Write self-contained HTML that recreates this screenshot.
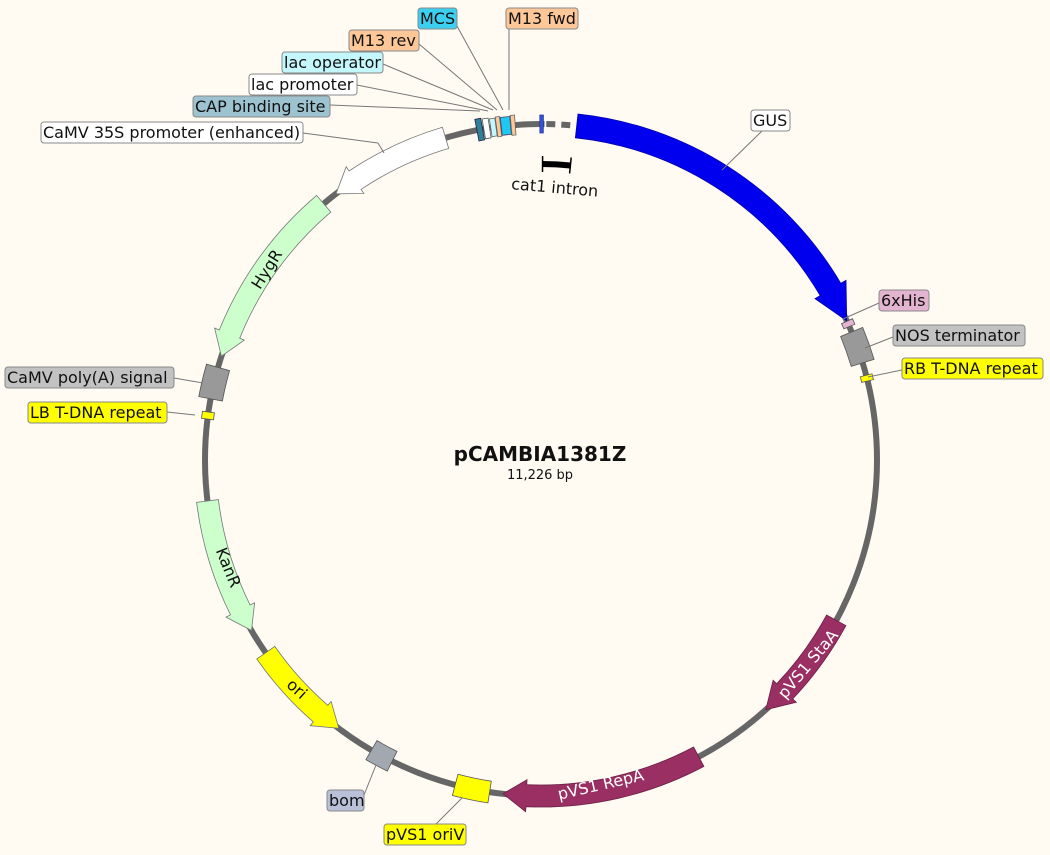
<!DOCTYPE html>
<html><head><meta charset="utf-8">
<style>
html,body{margin:0;padding:0;background:#fffbf3;}
svg{display:block;font-family:"DejaVu Sans","Liberation Sans",sans-serif;}
.lb{font-size:16px;fill:#111;}
</style></head>
<body>
<svg id="s" width="1050" height="855" viewBox="0 0 1050 855" xmlns="http://www.w3.org/2000/svg">
<rect width="1050" height="855" fill="#fffbf3"/>
<circle cx="541" cy="460" r="336" fill="none" stroke="#666" stroke-width="6"/>
<g id="g"></g>
<g stroke="#777" stroke-width="1" fill="none">
<line x1="457" y1="26" x2="503" y2="110"/>
<line x1="509" y1="29" x2="509" y2="110"/>
<line x1="419" y1="44" x2="497" y2="110"/>
<line x1="383" y1="64" x2="493" y2="110"/>
<line x1="357" y1="85" x2="488" y2="111"/>
<line x1="330" y1="105" x2="480" y2="111"/>
<line x1="303" y1="133" x2="378" y2="143"/>
<line x1="378" y1="143" x2="384" y2="153"/>
<line x1="762" y1="131" x2="722" y2="170"/>
<line x1="879" y1="303" x2="843" y2="319"/>
<line x1="893" y1="337" x2="865" y2="348"/>
<line x1="902" y1="370" x2="868" y2="377"/>
<line x1="174" y1="378" x2="203" y2="383"/>
<line x1="167" y1="412" x2="195" y2="415"/>
<line x1="364" y1="795" x2="376" y2="765"/>
<line x1="436" y1="824" x2="462" y2="798"/>
</g>
<g stroke="#888" stroke-width="1">
<rect x="418" y="8" width="39" height="21" rx="3" fill="#3ccff0"/>
<rect x="506" y="8" width="72" height="21" rx="3" fill="#fdc797"/>
<rect x="349" y="30" width="70" height="21" rx="3" fill="#fdc797"/>
<rect x="282" y="52" width="101" height="21" rx="3" fill="#c4f7fb"/>
<rect x="249" y="74" width="108" height="21" rx="3" fill="#fff"/>
<rect x="193" y="96" width="137" height="21" rx="3" fill="#9cc3cf"/>
<rect x="41" y="122" width="262" height="21" rx="3" fill="#fff"/>
<rect x="751" y="110" width="39" height="21" rx="3" fill="#fff"/>
<rect x="879" y="290" width="50" height="21" rx="3" fill="#e3b4cf"/>
<rect x="893" y="325" width="132" height="21" rx="3" fill="#c2c2c2"/>
<rect x="902" y="358" width="141" height="21" rx="3" fill="#ffff00"/>
<rect x="5" y="367" width="169" height="21" rx="3" fill="#c2c2c2"/>
<rect x="28" y="402" width="139" height="21" rx="3" fill="#ffff00"/>
<rect x="327" y="790" width="37" height="21" rx="3" fill="#b9c1d8"/>
<rect x="384" y="824" width="82" height="21" rx="3" fill="#ffff00"/>
</g>
<g class="lb">
<text x="420" y="24">MCS</text>
<text x="508" y="24">M13 fwd</text>
<text x="351" y="46">M13 rev</text>
<text x="284" y="68">lac operator</text>
<text x="251" y="90">lac promoter</text>
<text x="195" y="112">CAP binding site</text>
<text x="43" y="138">CaMV 35S promoter (enhanced)</text>
<text x="753" y="126">GUS</text>
<text x="881" y="306">6xHis</text>
<text x="895" y="341">NOS terminator</text>
<text x="904" y="374">RB T-DNA repeat</text>
<text x="7" y="383">CaMV poly(A) signal</text>
<text x="30" y="418">LB T-DNA repeat</text>
<text x="329" y="806">bom</text>
<text x="386" y="840">pVS1 oriV</text>
<text x="511" y="193" transform="rotate(5 556 190)">cat1 intron</text>
<text x="268" y="274" transform="rotate(-58 268 270)" text-anchor="middle">HygR</text>
<text x="227" y="572" transform="rotate(68 227 568)" text-anchor="middle">KanR</text>
<text x="296" y="694" transform="rotate(42 296 690)" text-anchor="middle">ori</text>
<text x="809" y="669" transform="rotate(-50 809 665)" text-anchor="middle" fill="#fff">pVS1 StaA</text>
<text x="601" y="790" transform="rotate(-13 601 786)" text-anchor="middle" fill="#fff">pVS1 RepA</text>
</g>
<text x="540" y="461" text-anchor="middle" font-size="20" font-weight="bold" fill="#111">pCAMBIA1381Z</text>
<text x="540" y="479" text-anchor="middle" font-size="13" fill="#111">11,226 bp</text>
</svg>
<script>
var g=document.getElementById('g'),NS='http://www.w3.org/2000/svg';
function P(a,r){a=a*Math.PI/180;return (541+r*Math.sin(a)).toFixed(1)+' '+(460-r*Math.cos(a)).toFixed(1);}
function add(tag,at){var e=document.createElementNS(NS,tag);for(var k in at)e.setAttribute(k,at[k]);g.appendChild(e);return e;}
function arrow(a,b,col,w,h,e,stroke){var r=336,ro=r+w/2,ri=r-w/2,s=b>a?1:-1,hb=b-s*h,sw=s>0?1:0,lg=Math.abs(hb-a)>180?1:0;
add('path',{d:'M'+P(a,ro)+' A'+ro+' '+ro+' 0 '+lg+' '+sw+' '+P(hb,ro)+' L'+P(hb,ro+e)+' L'+P(b,r)+' L'+P(hb,ri-e)+' L'+P(hb,ri)+' A'+ri+' '+ri+' 0 '+lg+' '+(1-sw)+' '+P(a,ri)+' Z',fill:col,stroke:stroke||'#555','stroke-width':0.8});}
function box(a,b,col,w,stroke){var r=336,ro=r+w/2,ri=r-w/2;
add('path',{d:'M'+P(a,ro)+' A'+ro+' '+ro+' 0 0 1 '+P(b,ro)+' L'+P(b,ri)+' A'+ri+' '+ri+' 0 0 0 '+P(a,ri)+' Z',fill:col,stroke:stroke||'#555','stroke-width':0.8});}
add('path',{d:'M'+P(0.6,336)+' A336 336 0 0 1 '+P(6.2,336),stroke:'#fffbf3','stroke-width':8,fill:'none'});
add('path',{d:'M'+P(0.9,336)+' A336 336 0 0 1 '+P(6.0,336),stroke:'#666','stroke-width':6,fill:'none','stroke-dasharray':'9 6'});
box(-0.2,0.4,'#3355dd',18,'#223399');
arrow(6.1,65.5,'#0000ee',24,6,6,'#0000aa');
box(65.6,66.6,'#e3b4cf',12);
box(67.6,73.2,'#999',24);
box(75.4,76.4,'#ffff00',12);
arrow(118.5,138,'#9a2f63',22,4.5,5,'#6a1f43');
arrow(152,186.5,'#9a2f63',22,4,5,'#6a1f43');
box(188.8,194.8,'#ffff00',22);
box(206.3,210.3,'#a2a8b0',22);
arrow(235,217,'#ffff00',22,4,5,'#777');
arrow(263,239.5,'#ccffcc',22,4,5,'#777');
box(277,278.2,'#ffff00',12);
box(280.5,286,'#999',24);
arrow(319.7,288,'#ccffcc',22,4,5,'#777');
arrow(343.5,322.4,'#ffffff',22,4,5,'#777');
box(349.0,350.0,'#2f7f95',22,'#224');
box(350.2,351.2,'#ffffff',20,'#555');
box(351.4,352.3,'#c4f7fb',18,'#666');
box(352.4,353.1,'#fdc797',20,'#666');
box(353.2,354.8,'#1ec8f2',18,'#446');
box(354.9,355.6,'#fdc797',20,'#666');
add('path',{d:'M'+P(0.3,296)+' A296 296 0 0 1 '+P(5.7,296),stroke:'#000','stroke-width':6,fill:'none'});
add('path',{d:'M'+P(0.3,288)+' L'+P(0.3,304)+' M'+P(5.7,288)+' L'+P(5.7,304),stroke:'#000','stroke-width':1.5});
</script>
</body></html>
